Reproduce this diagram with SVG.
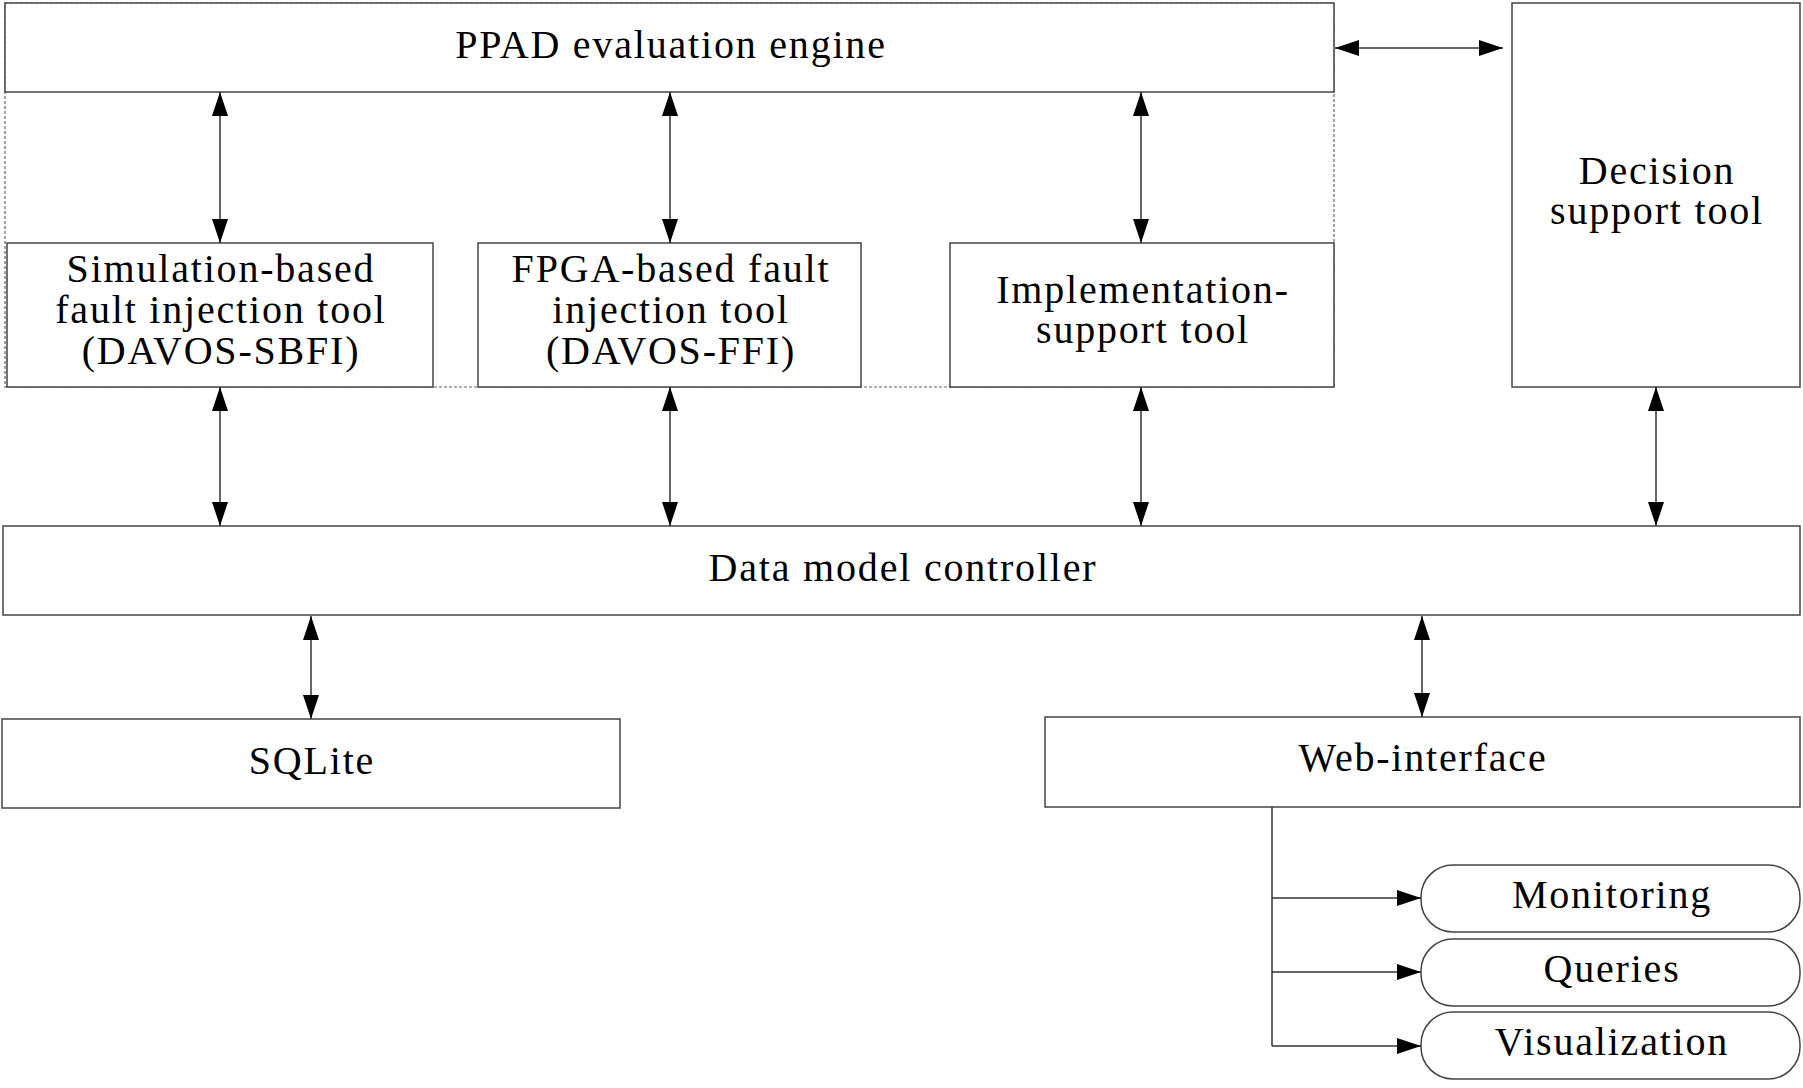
<svg xmlns="http://www.w3.org/2000/svg" width="1803" height="1088" viewBox="0 0 1803 1088">
<style>
.box{fill:#fff;stroke:#444;stroke-width:1.5}
.dash{fill:none;stroke:#666;stroke-width:1.2;stroke-dasharray:3 2}
.t{font-family:"Liberation Serif","Times New Roman",serif;font-size:40px;letter-spacing:1.8px;fill:#000;text-anchor:middle}
.c{fill:none;stroke:#333;stroke-width:1.5}
</style>
<defs>
<marker id="ah" markerUnits="userSpaceOnUse" markerWidth="24" markerHeight="16" refX="24" refY="8" orient="auto-start-reverse">
<path d="M0,0 L24,8 L0,16 z" fill="#000"/>
</marker>
</defs>
<rect width="1803" height="1088" fill="#fff"/>
<rect class="dash" x="5" y="3" width="1329" height="384"/>
<g id="ppad"><rect class="box" x="5" y="3" width="1329" height="89"/><text class="t" x="671" y="58">PPAD evaluation engine</text></g>
<g id="sbfi"><rect class="box" x="7" y="243" width="426" height="144"/><text class="t" x="221" y="282">Simulation-based</text><text class="t" x="221" y="323">fault injection tool</text><text class="t" x="221" y="364">(DAVOS-SBFI)</text></g>
<g id="ffi"><rect class="box" x="478" y="243" width="383" height="144"/><text class="t" x="671" y="282">FPGA-based fault</text><text class="t" x="671" y="323">injection tool</text><text class="t" x="671" y="364">(DAVOS-FFI)</text></g>
<g id="impl"><rect class="box" x="950" y="243" width="384" height="144"/><text class="t" x="1143" y="303">Implementation-</text><text class="t" x="1143" y="343">support tool</text></g>
<g id="decision"><rect class="box" x="1512" y="3" width="288" height="384"/><text class="t" x="1657" y="184">Decision</text><text class="t" x="1657" y="224">support tool</text></g>
<g id="dmc"><rect class="box" x="3" y="526" width="1797" height="89"/><text class="t" x="903" y="581">Data model controller</text></g>
<g id="sqlite"><rect class="box" x="2" y="719" width="618" height="89"/><text class="t" x="312" y="774">SQLite</text></g>
<g id="web"><rect class="box" x="1045" y="717" width="755" height="90"/><text class="t" x="1423" y="771">Web-interface</text></g>
<g id="monitoring"><rect class="box" x="1421" y="865" width="379" height="67" rx="32" ry="32"/><text class="t" x="1612" y="908">Monitoring</text></g>
<g id="queries"><rect class="box" x="1421" y="939" width="379" height="67" rx="32" ry="32"/><text class="t" x="1612" y="982">Queries</text></g>
<g id="visualization"><rect class="box" x="1421" y="1012" width="379" height="67" rx="32" ry="32"/><text class="t" x="1612" y="1055">Visualization</text></g>
<g id="connectors">
<line class="c" x1="220" y1="92" x2="220" y2="243" marker-start="url(#ah)" marker-end="url(#ah)"/>
<line class="c" x1="670" y1="92" x2="670" y2="243" marker-start="url(#ah)" marker-end="url(#ah)"/>
<line class="c" x1="1141" y1="92" x2="1141" y2="243" marker-start="url(#ah)" marker-end="url(#ah)"/>
<line class="c" x1="1335" y1="48" x2="1503" y2="48" marker-start="url(#ah)" marker-end="url(#ah)"/>
<line class="c" x1="220" y1="387" x2="220" y2="526" marker-start="url(#ah)" marker-end="url(#ah)"/>
<line class="c" x1="670" y1="387" x2="670" y2="526" marker-start="url(#ah)" marker-end="url(#ah)"/>
<line class="c" x1="1141" y1="387" x2="1141" y2="526" marker-start="url(#ah)" marker-end="url(#ah)"/>
<line class="c" x1="1656" y1="387" x2="1656" y2="526" marker-start="url(#ah)" marker-end="url(#ah)"/>
<line class="c" x1="311" y1="616" x2="311" y2="719" marker-start="url(#ah)" marker-end="url(#ah)"/>
<line class="c" x1="1422" y1="616" x2="1422" y2="717" marker-start="url(#ah)" marker-end="url(#ah)"/>
<path class="c" d="M1272,807 V1046"/>
<line class="c" x1="1272" y1="898" x2="1421" y2="898" marker-end="url(#ah)"/>
<line class="c" x1="1272" y1="972" x2="1421" y2="972" marker-end="url(#ah)"/>
<line class="c" x1="1272" y1="1046" x2="1421" y2="1046" marker-end="url(#ah)"/>
</g>
</svg>
